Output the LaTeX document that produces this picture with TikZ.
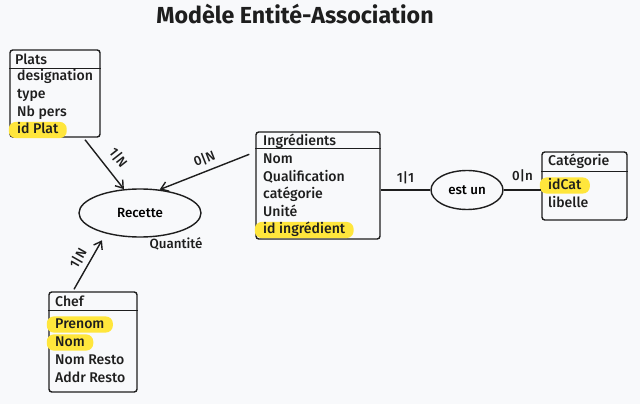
\documentclass[tikz,border=0pt]{standalone}
\usepackage{fontspec}
\setmainfont{Fira Sans}[UprightFont=* Medium, BoldFont=* Bold]
\usepackage{tikz}
\usetikzlibrary{arrows.meta,calc,fit,shapes.geometric}
\definecolor{bgcol}{HTML}{F8F9FB}
\definecolor{inkcol}{HTML}{1E1E1E}
\definecolor{hilite}{HTML}{FFE63C}

\begin{document}
\begin{tikzpicture}[x=0.25mm, y=-0.25mm,
    entity/.style={rectangle, draw=inkcol, line width=1pt, rounded corners=2pt, inner sep=0pt},
    assoc/.style={ellipse, draw=inkcol, line width=1pt, inner sep=0pt, font=\fontsize{9.5}{11}\selectfont}
    ]
    \tikzset{attr/.style = {anchor=west, inner xsep=6pt, inner ysep=1pt, text height=7.5pt, text depth=2pt, text=inkcol, font=\fontsize{10}{12}\selectfont}}
    \tikzset{keyattr/.style = {attr, fill=hilite, rounded corners=5pt}}
    \tikzset{sep/.style = {draw=inkcol, line width=1pt}}
    \tikzset{card/.style = {font=\fontsize{9.5}{11}\selectfont, text=inkcol, inner sep=1pt}}
    \tikzset{link/.style = {draw=inkcol, line width=1pt}}
    \tikzset{arc/.style = {link, -{Straight Barb[length=5pt,width=7pt]}}}
    %
    %background
    %
    \fill[bgcol] (0,0) rectangle (640,404);
    \useasboundingbox (0,0) rectangle (640,404);
    \node[text=inkcol, font=\fontsize{16.5}{19}\selectfont\bfseries] (titre) at (295,14) {Modèle Entité-Association};
    %
    %entities
    %
    \node[entity, fit={(10,50) (100,137)}] (plats) {};
    \draw[sep] ($(plats.north west)+(0,19)$) -- ($(plats.north east)+(0,19)$);
    \node[attr] (platsT) at (6.5,61) {Plats};
    \node[attr] (platsA) at (8.5,77) {designation};
    \node[attr] (platsB) at (8.5,95) {type};
    \node[attr] (platsC) at (8.5,112.5) {Nb pers};
    \node[keyattr] (platsD) at (8.5,130) {id Plat};
    %
    \node[entity, fit={(256,132) (380,239)}] (ingr) {};
    \draw[sep] ($(ingr.north west)+(0,17)$) -- ($(ingr.north east)+(0,17)$);
    \node[attr] (ingrT) at (254.5,141.5) {Ingrédients};
    \node[attr] (ingrA) at (254.5,160) {Nom};
    \node[attr] (ingrB) at (254.5,177.5) {Qualification};
    \node[attr] (ingrC) at (254.5,195) {catégorie};
    \node[attr] (ingrD) at (254.5,212.5) {Unité};
    \node[keyattr] (ingrE) at (254.5,230) {id ingrédient};
    %
    \node[entity, fit={(542,152) (627,220)}] (cat) {};
    \draw[sep] ($(cat.north west)+(0,20)$) -- ($(cat.north east)+(0,20)$);
    \node[attr] (catT) at (539.5,162) {Catégorie};
    \node[keyattr] (catA) at (539.5,185.5) {idCat};
    \node[attr] (catB) at (539.5,203.5) {libelle};
    %
    \node[entity, fit={(49,292) (137,392)}] (chef) {};
    \draw[sep] ($(chef.north west)+(0,19)$) -- ($(chef.north east)+(0,19)$);
    \node[attr] (chefT) at (46.5,302.5) {Chef};
    \node[keyattr] (chefA) at (46.5,324.5) {Prenom};
    \node[keyattr] (chefB) at (46.5,342.5) {Nom};
    \node[attr] (chefC) at (46.5,361) {Nom Resto};
    \node[attr] (chefD) at (46.5,379) {Addr Resto};
    %
    %associations
    %
    \node[assoc, minimum width=30.5mm, minimum height=12mm] (recette) at (140,213) {Recette};
    \node[card] (quant) at (176,244) {Quantité};
    \node[assoc, minimum width=18mm, minimum height=9.75mm] (estun) at (467,190) {est un};
    %
    %edges
    %
    \draw[arc] ([shift={(30,2)}]plats.south) -- node[card, pos=0.55, sloped, above=5pt] {1|N} (recette.124);
    \draw[arc] ([shift={(-6,23)}]ingr.north west) -- node[card, pos=0.45, sloped, above=3pt] {0|N} (recette.50);
    \draw[arc, shorten >=5.5pt] ([shift={(-19,-2)}]chef.north) -- node[card, pos=0.45, sloped, above=2.5pt] {1|N} (recette.211);
    \draw[link] (ingr.east |- estun.west) -- node[card, above=3pt] {1|1} (estun.west);
    \draw[link] (estun.east) -- node[card, above=4pt] {0|n} (cat.west |- estun.east);
\end{tikzpicture}
\end{document}
